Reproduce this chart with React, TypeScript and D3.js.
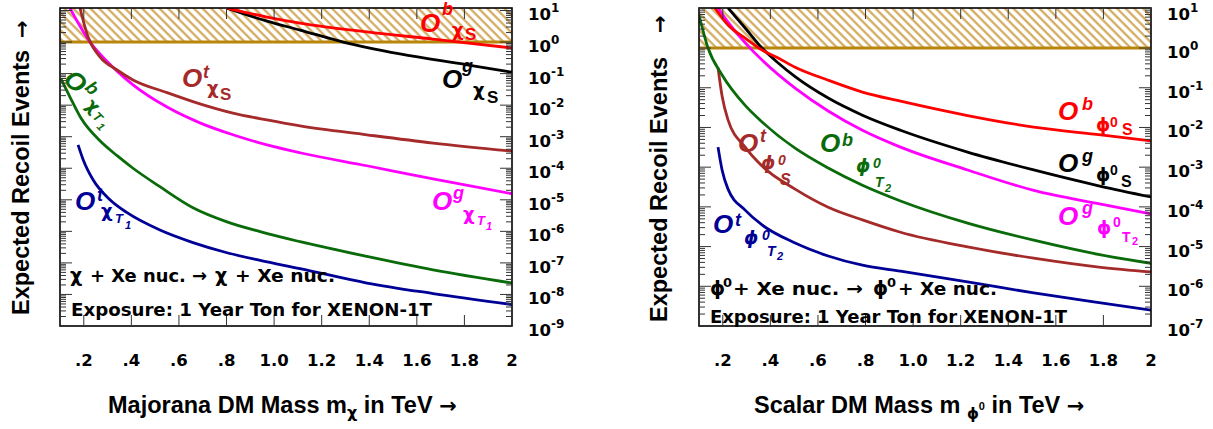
import React from "react";
import * as d3 from "d3";

// ---------------- Data ----------------
// Left panel: Majorana DM, mass in TeV, expected recoil events
const lpMassObChiS = [0.802, 0.97, 1.109, 1.39, 1.668, 2.0];
const lpEvtObChiS = [11.9, 6.2, 4.0, 2.1, 1.24, 0.65];

const lpMassOgChiS = [0.802, 0.97, 1.109, 1.29, 1.529, 1.811, 2.0];
const lpEvtOgChiS = [11.9, 4.6, 2.4, 1.0, 0.42, 0.19, 0.11];

const lpMassOtChiS = [0.184, 0.218, 0.268, 0.34, 0.407, 0.55, 0.688, 0.827, 0.97, 1.109, 1.39, 1.668, 2.0];
const lpEvtOtChiS = [11.9, 1.45, 0.34, 0.13, 0.063, 0.025, 0.011, 5.6e-3, 3.4e-3, 2.2e-3, 1.15e-3, 6.3e-4, 3.5e-4];

const lpMassOgChiT1 = [0.142, 0.226, 0.268, 0.34, 0.407, 0.55, 0.688, 0.827, 0.97, 1.109, 1.39, 1.668, 2.0];
const lpEvtOgChiT1 = [11.9, 1.0, 0.42, 0.12, 0.044, 8.7e-3, 2.75e-3, 1.15e-3, 5.5e-4, 3.1e-4, 1.2e-4, 4.6e-5, 1.55e-5];

const lpMassObChiT1 = [0.104, 0.142, 0.188, 0.268, 0.34, 0.407, 0.52, 0.659, 0.802, 0.941, 1.109, 1.39, 1.668, 2.0];
const lpEvtObChiT1 = [6.8e-2, 1.8e-2, 3.9e-3, 7.4e-4, 2.5e-4, 1.0e-4, 2.6e-5, 5.6e-6, 2.0e-6, 9.8e-7, 4.7e-7, 1.6e-7, 6.0e-8, 2.3e-8];

const lpMassOtChiT1 = [0.176, 0.197, 0.239, 0.31, 0.382, 0.52, 0.659, 0.802, 0.941, 1.109, 1.39, 1.668, 2.0];
const lpEvtOtChiT1 = [5.5e-4, 1.9e-4, 4.3e-5, 1.0e-5, 3.9e-6, 1.1e-6, 4.4e-7, 2.1e-7, 1.2e-7, 6.6e-8, 2.3e-8, 1.07e-8, 4.8e-9];

// Right panel: scalar DM
const rpMassObPhiS = [0.167, 0.222, 0.294, 0.365, 0.433, 0.504, 0.643, 0.787, 0.947, 1.229, 1.507, 1.789, 2.0];
const rpEvtObPhiS = [10.2, 3.8, 1.78, 0.89, 0.56, 0.33, 0.155, 0.078, 0.046, 0.02, 0.0102, 6.5e-3, 4.6e-3];

const rpMassOgPhiS = [0.222, 0.294, 0.365, 0.433, 0.504, 0.643, 0.787, 0.947, 1.229, 1.507, 1.789, 2.0];
const rpEvtOgPhiS = [10.2, 3.2, 1.0, 0.42, 0.19, 0.055, 0.0204, 8.5e-3, 2.4e-3, 8.5e-4, 3.3e-4, 1.78e-4];

const rpMassOgPhiT2 = [0.18, 0.222, 0.294, 0.365, 0.504, 0.643, 0.787, 0.947, 1.229, 1.507, 1.789, 2.0];
const rpEvtOgPhiT2 = [10.2, 4.5, 1.35, 0.5, 0.098, 0.026, 8.5e-3, 3.2e-3, 8.5e-4, 2.6e-4, 1.17e-4, 6.6e-5];

const rpMassObPhiT2 = [0.1, 0.138, 0.197, 0.294, 0.365, 0.504, 0.643, 0.787, 0.947, 1.229, 1.507, 1.789, 2.0];
const rpEvtObPhiT2 = [6.8, 1.0, 0.21, 0.036, 0.0138, 3.0e-3, 9.5e-4, 3.5e-4, 1.41e-4, 3.9e-5, 1.45e-5, 6.2e-6, 3.8e-6];

const rpMassOtPhiS = [0.18, 0.197, 0.222, 0.294, 0.365, 0.504, 0.643, 0.787, 0.947, 1.229, 1.507, 1.789, 2.0];
const rpEvtOtPhiS = [0.32, 0.062, 0.0155, 3.2e-3, 1.07e-3, 2.8e-4, 9.8e-5, 4.7e-5, 2.3e-5, 9.8e-6, 5.1e-6, 3.0e-6, 2.3e-6];

const rpMassOtPhiT2 = [0.18, 0.197, 0.222, 0.294, 0.365, 0.504, 0.643, 0.787, 0.947, 1.229, 1.507, 1.789, 2.0];
const rpEvtOtPhiT2 = [3.2e-3, 8.5e-4, 2.8e-4, 8.3e-5, 3.5e-5, 1.23e-5, 5.8e-6, 3.4e-6, 2.4e-6, 1.29e-6, 6.8e-7, 3.8e-7, 2.5e-7];

// Axis ticks
const xTickValues = [0.2, 0.4, 0.6, 0.8, 1.0, 1.2, 1.4, 1.6, 1.8, 2.0];
const xTickLabels = [".2", ".4", ".6", ".8", "1.0", "1.2", "1.4", "1.6", "1.8", "2"];
const lpExponents = [-9, -8, -7, -6, -5, -4, -3, -2, -1, 0, 1];
const rpExponents = [-7, -6, -5, -4, -3, -2, -1, 0, 1];

// ---------------- Styling ----------------
const FONT = "'Liberation Sans', Arial, Helvetica, sans-serif";
const DFONT = "'DejaVu Sans', 'Liberation Sans', sans-serif";
const C = {
  red: "#ff0000",
  black: "#000000",
  magenta: "#ff00ff",
  green: "#0a6b0a",
  brown: "#a52a2a",
  navy: "#000096",
};

type Series = { mass: number[]; events: number[]; color: string };
type Piece = { t: string; x: number; y: number; s: number; i?: boolean; d?: boolean };

const zip = (a: number[], b: number[]) => a.map((m, k) => [m, b[k]] as [number, number]);

function Pieces({ pieces, color }: { pieces: Piece[]; color: string }) {
  return (
    <g fill={color} fontWeight="bold">
      {pieces.map((p, k) => (
        <text
          key={k}
          x={p.x}
          y={p.y}
          fontSize={p.s}
          fontFamily={p.d ? DFONT : FONT}
          fontStyle={p.i ? "italic" : "normal"}
        >
          {p.t}
        </text>
      ))}
    </g>
  );
}

function Panel(props: {
  id: string;
  left: number;
  right: number;
  top: number;
  bottom: number;
  yMin: number;
  yMax: number;
  exps: number[];
  series: Series[];
}) {
  const { id, left, right, top, bottom, yMin, yMax, exps, series } = props;
  const x = d3.scaleLinear().domain([0.1, 2]).range([left, right]);
  const y = d3.scaleLog().domain([yMin, yMax]).range([bottom, top]);
  const line = d3
    .line<[number, number]>()
    .x((d) => x(d[0]))
    .y((d) => y(d[1]))
    .curve(d3.curveMonotoneX);

  const majors = exps.map((e) => Math.pow(10, e));
  const minors: number[] = [];
  exps.forEach((e) => {
    for (let j = 2; j <= 9; j++) {
      const v = j * Math.pow(10, e);
      if (v > yMin && v < yMax) minors.push(v);
    }
  });
  const y1 = y(1);

  return (
    <g>
      <defs>
        <clipPath id={`clip-${id}`}>
          <rect x={left} y={top} width={right - left} height={bottom - top} />
        </clipPath>
        <pattern
          id={`hatch-${id}`}
          patternUnits="userSpaceOnUse"
          width={12}
          height={6.1}
          patternTransform="rotate(45)"
        >
          <line x1={0} y1={3} x2={12} y2={3} stroke="#d2a95c" strokeWidth={2.2} />
        </pattern>
      </defs>
      {/* hatched excluded band */}
      <rect x={left} y={top} width={right - left} height={y1 - top} fill={`url(#hatch-${id})`} />
      <line x1={left} x2={right} y1={y1} y2={y1} stroke="#b8860b" strokeWidth={3} />

      {/* curves */}
      <g clipPath={`url(#clip-${id})`}>
        {series.map((s, k) => (
          <path key={k} d={line(zip(s.mass, s.events)) || ""} fill="none" stroke={s.color} strokeWidth={2.8} />
        ))}
      </g>

      {/* frame */}
      <rect x={left} y={top} width={right - left} height={bottom - top} fill="none" stroke="#000" strokeWidth={1.6} />

      {/* ticks */}
      <g stroke="#333" strokeWidth={1}>
        {xTickValues.slice(0, -1).map((v, k) => (
          <g key={k}>
            <line x1={x(v)} x2={x(v)} y1={bottom} y2={bottom - 11} />
            <line x1={x(v)} x2={x(v)} y1={top} y2={top + 11} />
          </g>
        ))}
        {majors.map((v, k) => (
          <g key={`M${k}`}>
            <line x1={left} x2={left + 12} y1={y(v)} y2={y(v)} />
            <line x1={right} x2={right - 12} y1={y(v)} y2={y(v)} />
          </g>
        ))}
        {minors.map((v, k) => (
          <g key={`m${k}`}>
            <line x1={left} x2={left + 6} y1={y(v)} y2={y(v)} />
            <line x1={right} x2={right - 6} y1={y(v)} y2={y(v)} />
          </g>
        ))}
      </g>

      {/* x tick labels */}
      <g fontFamily={DFONT} fontWeight="bold" fontSize={16.5} textAnchor="middle" fill="#000">
        {xTickValues.map((v, k) => (
          <text key={k} x={x(v)} y={366}>
            {xTickLabels[k]}
          </text>
        ))}
      </g>

      {/* y tick labels on the right */}
      <g fontFamily={DFONT} fontWeight="bold" fill="#000">
        {exps.map((e, k) => (
          <text key={k} x={right + 16} y={Math.max(y(Math.pow(10, e)) + 10, 20)} fontSize={16.5}>
            10
            <tspan fontSize={12} dy={-8}>
              {e < 0 ? `-${-e}` : `${e}`}
            </tspan>
          </text>
        ))}
      </g>
    </g>
  );
}

export default function App() {
  const leftSeries: Series[] = [
    { mass: lpMassOtChiT1, events: lpEvtOtChiT1, color: C.navy },
    { mass: lpMassObChiT1, events: lpEvtObChiT1, color: C.green },
    { mass: lpMassOgChiT1, events: lpEvtOgChiT1, color: C.magenta },
    { mass: lpMassOtChiS, events: lpEvtOtChiS, color: C.brown },
    { mass: lpMassOgChiS, events: lpEvtOgChiS, color: C.black },
    { mass: lpMassObChiS, events: lpEvtObChiS, color: C.red },
  ];
  const rightSeries: Series[] = [
    { mass: rpMassOtPhiT2, events: rpEvtOtPhiT2, color: C.navy },
    { mass: rpMassOtPhiS, events: rpEvtOtPhiS, color: C.brown },
    { mass: rpMassObPhiT2, events: rpEvtObPhiT2, color: C.green },
    { mass: rpMassOgPhiT2, events: rpEvtOgPhiT2, color: C.magenta },
    { mass: rpMassOgPhiS, events: rpEvtOgPhiS, color: C.black },
    { mass: rpMassObPhiS, events: rpEvtObPhiS, color: C.red },
  ];

  const phi = "\u03d5";
  const chi = "\u03c7";

  return (
    <svg
      width={1213}
      height={429}
      style={{ position: "absolute", left: 0, top: 0, background: "#fff" }}
      xmlns="http://www.w3.org/2000/svg"
    >
      <rect x={0} y={0} width={1213} height={429} fill="#fff" />
      <Panel id="L" left={60} right={512} top={8} bottom={326} yMin={1e-9} yMax={12} exps={lpExponents} series={leftSeries} />
      <Panel id="R" left={699} right={1151} top={8} bottom={326} yMin={1e-7} yMax={10.2} exps={rpExponents} series={rightSeries} />

      {/* ---- left panel labels ---- */}
      <Pieces color={C.red} pieces={[
        { t: "O", x: 420, y: 31.5, s: 26, i: true },
        { t: "b", x: 442, y: 15, s: 18, i: true },
        { t: chi, x: 452, y: 35.5, s: 18, d: true },
        { t: "S", x: 465, y: 40, s: 17 },
      ]} />
      <Pieces color={C.black} pieces={[
        { t: "O", x: 442, y: 88, s: 26, i: true },
        { t: "g", x: 462, y: 72, s: 18, i: true },
        { t: chi, x: 473, y: 96, s: 18, d: true },
        { t: "S", x: 487, y: 103, s: 17 },
      ]} />
      <Pieces color={C.brown} pieces={[
        { t: "O", x: 182, y: 87, s: 26, i: true },
        { t: "t", x: 203, y: 78, s: 18, i: true },
        { t: chi, x: 207, y: 94, s: 18, d: true },
        { t: "S", x: 220, y: 100, s: 17 },
      ]} />
      <Pieces color={C.magenta} pieces={[
        { t: "O", x: 432, y: 210, s: 26, i: true },
        { t: "g", x: 453, y: 199, s: 18, i: true },
        { t: chi, x: 463, y: 220, s: 18, d: true },
        { t: "T", x: 477, y: 225, s: 13, i: true },
        { t: "1", x: 486, y: 230, s: 11, i: true },
      ]} />
      <Pieces color={C.navy} pieces={[
        { t: "O", x: 75, y: 210, s: 26, i: true },
        { t: "t", x: 97, y: 201, s: 18, i: true },
        { t: chi, x: 101, y: 217, s: 18, d: true },
        { t: "T", x: 115, y: 223, s: 13, i: true },
        { t: "1", x: 125, y: 229, s: 11, i: true },
      ]} />
      <g transform="translate(62,80.6) rotate(45)">
        <Pieces color={C.green} pieces={[
          { t: "O", x: 0, y: 0, s: 26, i: true },
          { t: "b", x: 21, y: -10, s: 18, i: true },
          { t: chi, x: 34, y: 2, s: 18, d: true },
          { t: "T", x: 47, y: 5, s: 13, i: true },
          { t: "1", x: 57, y: 9, s: 11, i: true },
        ]} />
      </g>

      {/* ---- right panel labels ---- */}
      <Pieces color={C.red} pieces={[
        { t: "O", x: 1058, y: 120, s: 26, i: true },
        { t: "b", x: 1082, y: 110, s: 18, i: true },
        { t: phi, x: 1096, y: 131, s: 18, d: true },
        { t: "0", x: 1110, y: 127, s: 14 },
        { t: "S", x: 1122, y: 135, s: 16 },
      ]} />
      <Pieces color={C.black} pieces={[
        { t: "O", x: 1058, y: 172, s: 26, i: true },
        { t: "g", x: 1082, y: 162, s: 18, i: true },
        { t: phi, x: 1096, y: 181, s: 18, d: true },
        { t: "0", x: 1110, y: 175, s: 14 },
        { t: "S", x: 1121, y: 187, s: 16 },
      ]} />
      <Pieces color={C.magenta} pieces={[
        { t: "O", x: 1058, y: 225, s: 26, i: true },
        { t: "g", x: 1082, y: 214, s: 18, i: true },
        { t: phi, x: 1097, y: 234, s: 18, d: true },
        { t: "0", x: 1113, y: 227, s: 14 },
        { t: "T", x: 1122, y: 242, s: 14 },
        { t: "2", x: 1132, y: 245, s: 11 },
      ]} />
      <Pieces color={C.brown} pieces={[
        { t: "O", x: 738, y: 152, s: 26, i: true },
        { t: "t", x: 760, y: 142, s: 18, i: true },
        { t: phi, x: 761, y: 169, s: 18, i: true, d: true },
        { t: "0", x: 778, y: 165, s: 14, i: true },
        { t: "S", x: 780, y: 185, s: 16, i: true },
      ]} />
      <Pieces color={C.green} pieces={[
        { t: "O", x: 820, y: 152, s: 26, i: true },
        { t: "b", x: 842, y: 146, s: 18, i: true },
        { t: phi, x: 856, y: 172, s: 18, i: true, d: true },
        { t: "0", x: 873, y: 168, s: 14, i: true },
        { t: "T", x: 875, y: 187, s: 14, i: true },
        { t: "2", x: 885, y: 192, s: 11, i: true },
      ]} />
      <Pieces color={C.navy} pieces={[
        { t: "O", x: 713, y: 233, s: 26, i: true },
        { t: "t", x: 735, y: 226, s: 18, i: true },
        { t: phi, x: 744, y: 244, s: 18, i: true, d: true },
        { t: "0", x: 762, y: 240, s: 14, i: true },
        { t: "T", x: 767, y: 256, s: 14, i: true },
        { t: "2", x: 777, y: 260, s: 11, i: true },
      ]} />

      {/* ---- annotations ---- */}
      <g fontFamily={DFONT} fontWeight="bold" fill="#000" fontSize={18}>
        <text x={70} y={282} fontSize={19}>{chi}</text>
        <text x={90} y={282} textLength={117} lengthAdjust="spacingAndGlyphs">+ Xe nuc. →</text>
        <text x={215} y={282} fontSize={19}>{chi}</text>
        <text x={235} y={282} textLength={100} lengthAdjust="spacingAndGlyphs">+ Xe nuc.</text>
        <text x={71} y={316} textLength={361} lengthAdjust="spacingAndGlyphs">Exposure: 1 Year Ton for XENON-1T</text>

        <text x={710} y={294.5} fontSize={19}>{phi}</text>
        <text x={723} y={287} fontSize={13}>0</text>
        <text x={733} y={295} textLength={130} lengthAdjust="spacingAndGlyphs">+ Xe nuc. →</text>
        <text x={873} y={294.5} fontSize={19}>{phi}</text>
        <text x={887} y={287} fontSize={13}>0</text>
        <text x={898} y={295} textLength={99} lengthAdjust="spacingAndGlyphs">+ Xe nuc.</text>
        <text x={710} y={323} textLength={357} lengthAdjust="spacingAndGlyphs">Exposure: 1 Year Ton for XENON-1T</text>
      </g>

      {/* ---- axis titles ---- */}
      <g fontFamily={FONT} fontWeight="bold" fill="#000" fontSize={23.5}>
        <text x={108} y={413}>
          Majorana DM Mass m<tspan fontSize={16} dy={5} fontFamily={DFONT}>{chi}</tspan>
          <tspan dy={-5}> in TeV </tspan>
          <tspan fontFamily={DFONT} fontSize={21}>→</tspan>
        </text>
        <text x={754} y={413}>
          Scalar DM Mass m <tspan fontSize={15} dy={6} fontFamily={DFONT}>{phi}</tspan>
          <tspan fontSize={11} dy={-9}>0</tspan>
          <tspan dy={3}> in TeV </tspan>
          <tspan fontFamily={DFONT} fontSize={21}>→</tspan>
        </text>
        <text transform="translate(29,315) rotate(-90)">Expected Recoil Events</text>
        <text transform="translate(29,38) rotate(-90)" fontFamily={DFONT} fontSize={21}>→</text>
        <text transform="translate(667,322) rotate(-90)">Expected Recoil Events</text>
        <text transform="translate(667,33) rotate(-90)" fontFamily={DFONT} fontSize={21}>→</text>
      </g>
    </svg>
  );
}
